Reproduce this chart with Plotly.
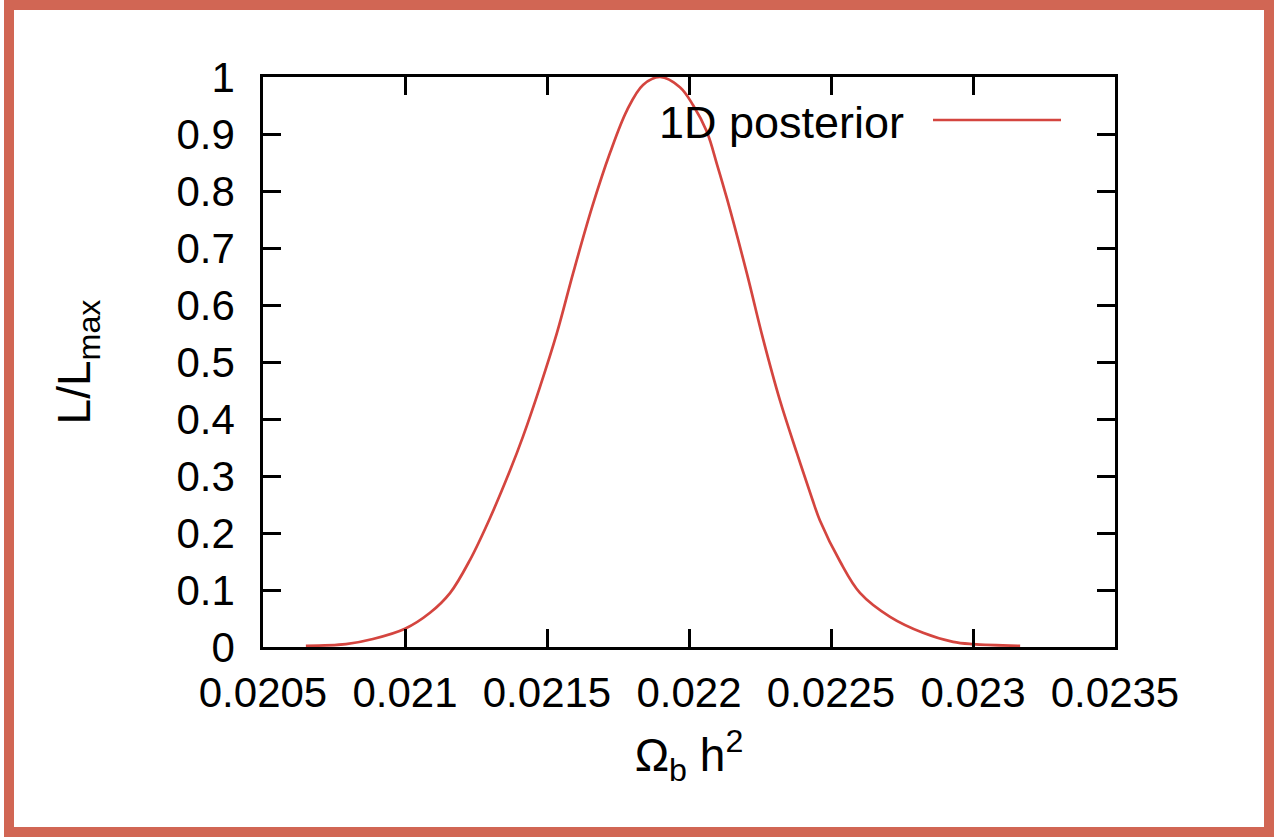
import plotly.graph_objects as go

# Posterior curve
omega_b_h2 = [0.020651, 0.020792, 0.020887, 0.021000, 0.021088, 0.021159, 0.021229,
              0.021299, 0.021370, 0.021416, 0.021475, 0.021535, 0.021592, 0.021659,
              0.021722, 0.021782, 0.021838, 0.021898, 0.021968, 0.022014, 0.022063,
              0.022099, 0.022134, 0.022204, 0.022261, 0.022320, 0.022380, 0.022433,
              0.022461, 0.022532, 0.022602, 0.022708, 0.022824, 0.022930, 0.023000,
              0.023166]
l_over_lmax = [0.002, 0.005, 0.014, 0.032, 0.060, 0.095, 0.153,
               0.226, 0.310, 0.370, 0.456, 0.551, 0.656, 0.772,
               0.867, 0.942, 0.986, 1.000, 0.982, 0.951, 0.904,
               0.846, 0.786, 0.655, 0.540, 0.433, 0.340, 0.261,
               0.222, 0.150, 0.095, 0.053, 0.025, 0.009, 0.005,
               0.002]

x_tick_vals = [0.0205, 0.021, 0.0215, 0.022, 0.0225, 0.023, 0.0235]
x_tick_text = ["0.0205", "0.021", "0.0215", "0.022", "0.0225", "0.023", "0.0235"]
y_tick_vals = [0, 0.1, 0.2, 0.3, 0.4, 0.5, 0.6, 0.7, 0.8, 0.9, 1]
y_tick_text = ["0", "0.1", "0.2", "0.3", "0.4", "0.5", "0.6", "0.7", "0.8", "0.9", "1"]
series_name = "1D posterior"

LINE_COLOR = "#d4453f"
BORDER_COLOR = "#d16654"
FONT = "Liberation Sans, Arial, Helvetica, sans-serif"

W, H = 1274, 837
L, R, T, B = 263, 1115, 77, 647
pw, ph = R - L, B - T


def px_to_paper_x(px):
    return (px - L) / pw


def px_to_paper_y(py):
    return (B - py) / ph


fig = go.Figure()
fig.add_trace(go.Scatter(
    x=omega_b_h2, y=l_over_lmax, mode="lines", name=series_name,
    line=dict(color=LINE_COLOR, width=2.7, shape="spline", smoothing=1.0),
    showlegend=False,
))

axis_common = dict(
    showline=True, linecolor="black", linewidth=2.5, mirror="ticks",
    ticks="inside", ticklen=18, tickwidth=2.5, tickcolor="black",
    showgrid=False, zeroline=False,
    tickfont=dict(family=FONT, size=42, color="black"),
)

fig.update_xaxes(
    range=[0.0205, 0.0235], tickvals=x_tick_vals, ticktext=x_tick_text,
    ticklabelstandoff=7,
    title=dict(text="Ω<sub>b</sub> h<sup>2</sup>", font=dict(family=FONT, size=46, color="black"),
               standoff=24),
    **axis_common,
)
fig.update_yaxes(
    range=[0, 1], tickvals=y_tick_vals, ticktext=y_tick_text,
    ticklabelstandoff=17,
    title=dict(text="L/L<sub>max</sub>", font=dict(family=FONT, size=46, color="black"),
               standoff=72),
    **axis_common,
)

# legend (gnuplot style: text, then line sample to the right)
fig.add_annotation(
    x=px_to_paper_x(906), y=px_to_paper_y(122), xref="paper", yref="paper",
    text=series_name, showarrow=False, xanchor="right", yanchor="middle",
    font=dict(family=FONT, size=45, color="black"),
)
fig.add_shape(
    type="line", xref="paper", yref="paper",
    x0=px_to_paper_x(933), x1=px_to_paper_x(1061),
    y0=px_to_paper_y(120), y1=px_to_paper_y(120),
    line=dict(color=LINE_COLOR, width=2.7),
)

# outer frame
fig.add_shape(
    type="rect", xref="paper", yref="paper",
    x0=px_to_paper_x(9), x1=px_to_paper_x(1269),
    y0=px_to_paper_y(832), y1=px_to_paper_y(5),
    line=dict(color=BORDER_COLOR, width=10), fillcolor="rgba(0,0,0,0)",
    layer="below",
)

fig.update_layout(
    width=W, height=H,
    margin=dict(l=L, r=W - R, t=T, b=H - B, pad=0),
    paper_bgcolor="white", plot_bgcolor="white",
    font=dict(family=FONT, size=42, color="black"),
)

fig.write_html("out.html", config={"displayModeBar": False},
               post_script="document.body.style.margin='0';")
